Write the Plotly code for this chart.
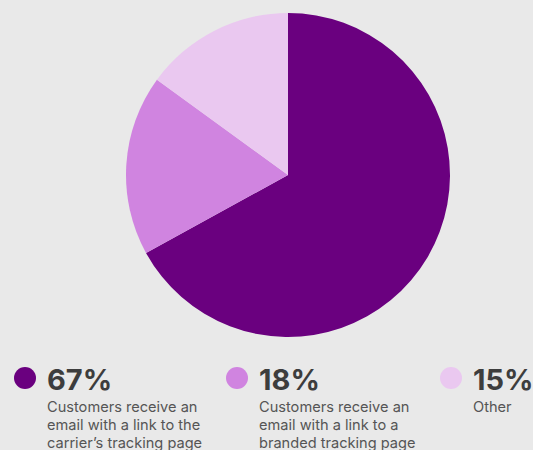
import plotly.graph_objects as go

# Shares of how customers are notified about shipment tracking
shares = [67, 18, 15]
pct_labels = ["67%", "18%", "15%"]
descriptions = [
    ["Customers receive an", "email with a link to the", "carrier’s tracking page"],
    ["Customers receive an", "email with a link to a", "branded tracking page"],
    ["Other"],
]
colors = ["#6a007f", "#d084e0", "#eac8f0"]

W, H = 533, 450
BG = "#e9e9e9"
FONT = "Inter"

fig = go.Figure(
    go.Pie(
        values=shares,
        labels=[" ".join(d) for d in descriptions],
        marker=dict(colors=colors, line=dict(width=0)),
        sort=False,
        direction="clockwise",
        rotation=0,
        textinfo="none",
        hoverinfo="label+percent",
        showlegend=False,
        domain=dict(x=[(288 - 162) / W, (288 + 162) / W],
                    y=[1 - 337 / H, 1 - 13 / H]),
    )
)

# Custom legend row beneath the pie
legend_x = [25, 237, 451]
dot_y = 378
dot_r = 11
line_y0 = 407
line_step = 18
shapes = []
annotations = []
for x, col, pct, desc in zip(legend_x, colors, pct_labels, descriptions):
    shapes.append(dict(
        type="circle", xref="paper", yref="paper",
        x0=(x - dot_r) / W, x1=(x + dot_r) / W,
        y0=1 - (dot_y + dot_r) / H, y1=1 - (dot_y - dot_r) / H,
        fillcolor=col, line=dict(width=0),
    ))
    annotations.append(dict(
        text=f"<b>{pct}</b>", xref="paper", yref="paper",
        x=(x + 20) / W, y=1 - (dot_y + 1) / H,
        xanchor="left", yanchor="middle", showarrow=False,
        font=dict(family=FONT, size=29, color="#3d3d3d"),
    ))
    for i, line in enumerate(desc):
        annotations.append(dict(
            text=line, xref="paper", yref="paper",
            x=(x + 20) / W, y=1 - (line_y0 + i * line_step) / H,
            xanchor="left", yanchor="middle", align="left", showarrow=False,
            font=dict(family=FONT, size=14.6, color="#555555"),
        ))

fig.update_layout(
    width=W, height=H,
    margin=dict(l=0, r=0, t=0, b=0),
    paper_bgcolor=BG, plot_bgcolor=BG,
    shapes=shapes, annotations=annotations,
)

fig.write_html("out.html")
